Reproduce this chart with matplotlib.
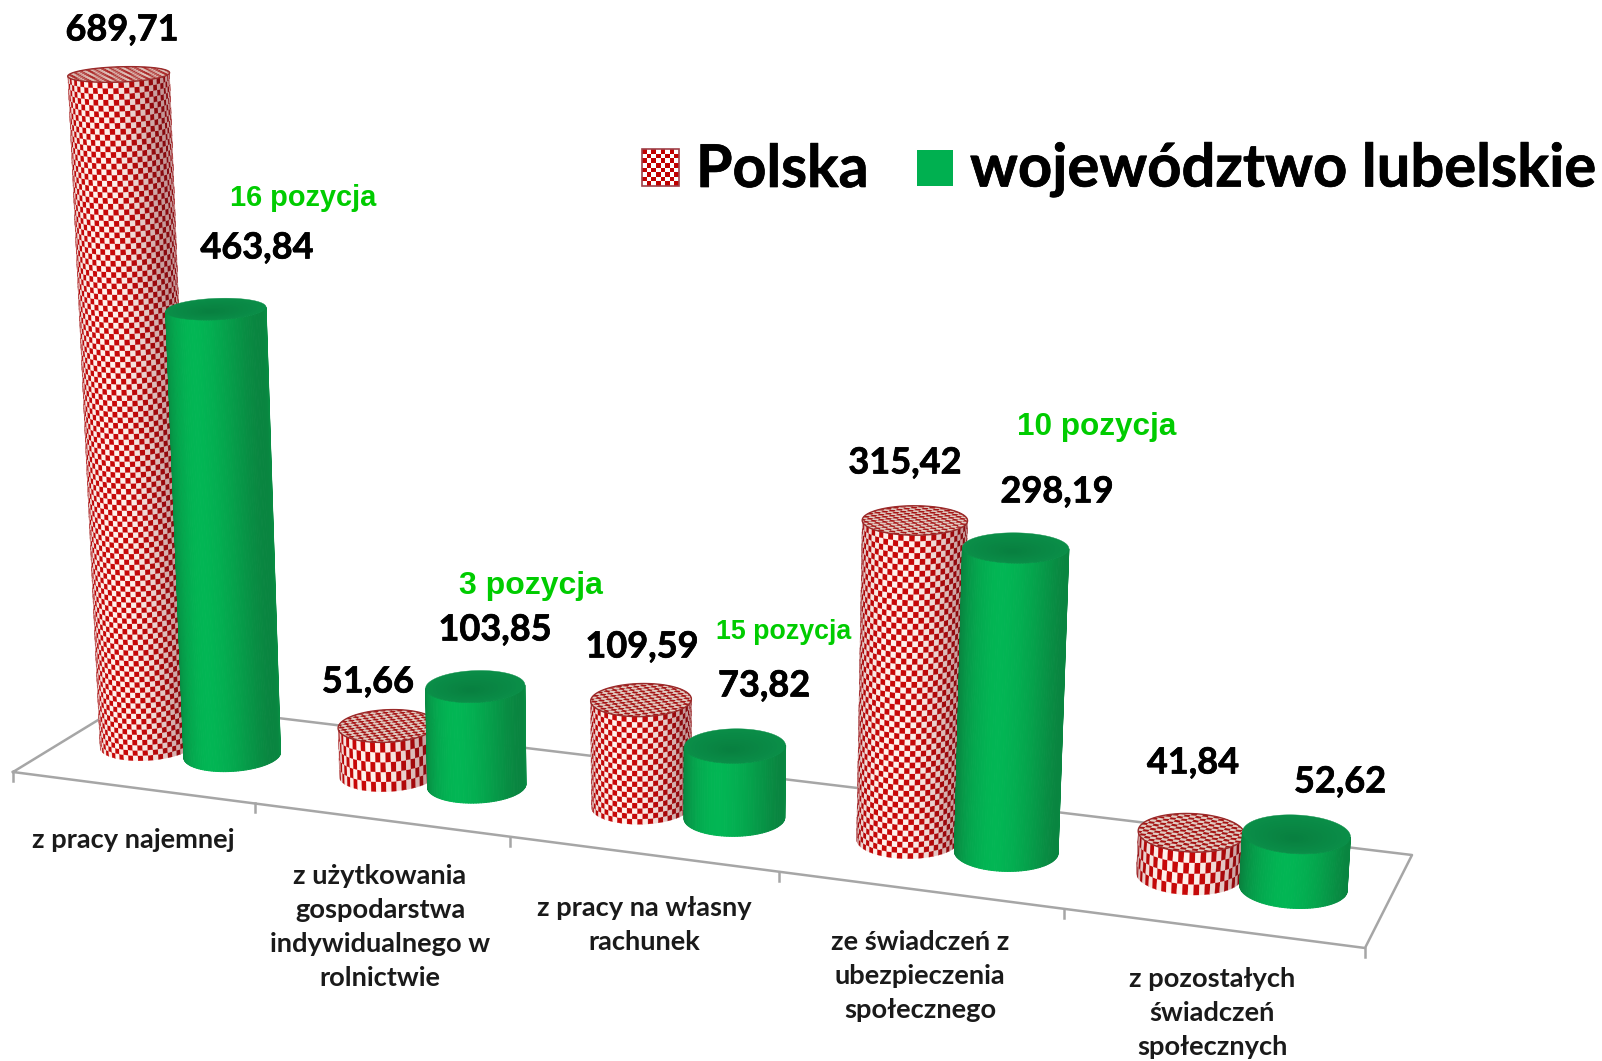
#!/usr/bin/env python3
"""Cylinder chart of income sources, Polska vs wojewodztwo lubelskie"""

import matplotlib
matplotlib.use('Agg')
import matplotlib.pyplot as plt
import matplotlib.patheffects as pe
from matplotlib.collections import PolyCollection
from matplotlib.colors import ListedColormap
from matplotlib.patches import Rectangle
import numpy as np

categories = ['z pracy najemnej',
              'z użytkowania\ngospodarstwa\nindywidualnego w\nrolnictwie',
              'z pracy na własny\nrachunek',
              'ze świadczeń z\nubezpieczenia\nspołecznego',
              'z pozostałych\nświadczeń\nspołecznych']
polska = [689.71, 51.66, 109.59, 315.42, 41.84]
lubelskie = [463.84, 103.85, 73.82, 298.19, 52.62]
series_names = ['Polska', 'województwo lubelskie']
rank_labels = ['16 pozycja', '3 pozycja', '15 pozycja', '10 pozycja']

# text placement in pixels
polska_label_xy = [(122, 30), (368, 682), (642, 647), (905, 463), (1193, 763)]
lubelskie_label_xy = [(257, 248), (495, 630), (764, 686), (1057, 492), (1340, 782)]
rank_xy = [(303, 198), (531, 586), (784, 632), (1097, 427)]
rank_size = [20.9, 23, 19.3, 22.7]
category_xy = [(133, 840), (380, 927), (644, 925), (920, 976), (1212, 1013)]

W, H = 1602, 1061
FONT = 'Lato'
BOLDER = [pe.withStroke(linewidth=0.5, foreground='black')]

# floor corners: (X, Y) world -> pixel, X in categories, Y is depth
floor_world = [(0, 0), (5, 0), (5, 1), (0, 1)]
floor_px = [(13, 772), (1365, 948), (1412, 855), (130.5, 700.2)]
VANISH = np.array([654.0, 12260.0])   # vertical vanishing point
KAPPA = 0.97 / 11500                  # height scale
OFFSET = 0.178                        # column offset from category centre
RX, RY = 0.178, 0.21                  # cylinder radii in world units
DEPTH = 0.5


def floor_matrix():
    A, b = [], []
    for (X, Y), (u, v) in zip(floor_world, floor_px):
        A.append([X, Y, 1, 0, 0, 0, -u * X, -u * Y])
        A.append([0, 0, 0, X, Y, 1, -v * X, -v * Y])
        b += [u, v]
    h = np.linalg.solve(np.array(A, float), np.array(b, float))
    M = np.append(h, 1.0).reshape(3, 3)
    return M / (M[2] @ np.array([2.5, 0.5, 1.0]))


MAT = floor_matrix()


def project(X, Y, z):
    """World point to pixel, z is the chart value"""
    X, Y, z = np.broadcast_arrays(X, Y, z)
    p = MAT @ np.stack([X.ravel(), Y.ravel(), np.ones(X.size)])
    w = p[2] - KAPPA * z.ravel()
    px = (p[0] - KAPPA * z.ravel() * VANISH[0]) / w
    py = (p[1] - KAPPA * z.ravel() * VANISH[1]) / w
    return np.column_stack([px, py]).reshape(X.shape + (2,))


def area(poly):
    x, y = poly[:, 0], poly[:, 1]
    return 0.5 * np.sum(x * np.roll(y, -1) - np.roll(x, -1) * y)


def lerp(a, b, f):
    return tuple((np.array(a) + (np.array(b) - np.array(a)) * f) / 255.0)


def body_quads(cx, value, n_theta, n_rows):
    """Camera facing quads of the cylinder wall"""
    th = np.linspace(0, 2 * np.pi, n_theta + 1)
    zs = np.linspace(0, value, n_rows + 1)
    quads, idx = [], []
    for i in range(n_theta):
        for j in range(n_rows):
            xs = cx + RX * np.cos([th[i], th[i + 1], th[i + 1], th[i]])
            ys = DEPTH + RY * np.sin([th[i], th[i + 1], th[i + 1], th[i]])
            q = project(xs, ys, np.array([zs[j], zs[j], zs[j + 1], zs[j + 1]]))
            if area(q) < 0:
                quads.append(q)
                idx.append((i, j))
    return quads, idx


def side_pos(i_theta, n_theta):
    """0 at the left silhouette, 1 at the right one"""
    th = 2 * np.pi * (i_theta + 0.5) / n_theta
    return (1 + np.cos(th)) / 2


def draw_green(ax, cx, value, order):
    quads, idx = body_quads(cx, value, 120, 1)
    cols = []
    for i, j in idx:
        f = min(abs(2 * side_pos(i, 120) - 1.05), 1) ** 1.8
        cols.append(lerp((2, 182, 84), (10, 128, 62), f))
    ax.add_collection(PolyCollection(quads, facecolors=cols, edgecolors=cols,
                                     linewidths=0.7, zorder=order))
    # top face in bands from rim to middle
    th = np.linspace(0, 2 * np.pi, 120)
    for k in range(12):
        s = 1 - k / 12.0
        ring = project(cx + s * RX * np.cos(th), DEPTH - 0.25 * RY * (1 - s) + s * RY * np.sin(th),
                       np.full(120, value))
        ax.fill(ring[:, 0], ring[:, 1], color=lerp((10, 142, 72), (8, 128, 64), k / 11.0),
                lw=0.3, zorder=order + 0.1)


def draw_checker(ax, cx, value, order):
    # short columns get stretched tiles, tall ones small square tiles
    if value < 100:
        n_rows = max(int(round(value / 10.0)), 4)
    else:
        n_rows = int(round(value / 5.6))
    quads, idx = body_quads(cx, value, 60, n_rows)
    cols = []
    for i, j in idx:
        f = min(abs(2 * side_pos(i, 60) - 1), 1) ** 3
        if (i + j) % 2 == 0:
            cols.append(lerp((200, 8, 8), (135, 10, 15), f))
        else:
            cols.append(lerp((255, 242, 236), (195, 150, 150), f))
    ax.add_collection(PolyCollection(quads, facecolors=cols, edgecolors=cols,
                                     linewidths=0.2, zorder=order))
    # top face: planar checks pushed in to the rim
    n = 18
    grid = np.linspace(-1, 1, n + 1)
    faces, cols = [], []
    for i in range(n):
        for j in range(n):
            u = np.array([grid[i], grid[i + 1], grid[i + 1], grid[i]])
            v = np.array([grid[j], grid[j], grid[j + 1], grid[j + 1]])
            rad = np.maximum(np.hypot(u, v), 1.0)
            if np.hypot(u, v).min() >= 1.0:
                continue
            faces.append(project(cx + RX * u / rad, DEPTH + RY * v / rad, np.full(4, value)))
            cols.append((165 / 255, 20 / 255, 20 / 255) if (i + j) % 2 == 0
                        else (225 / 255, 205 / 255, 195 / 255))
    ax.add_collection(PolyCollection(faces, facecolors=cols, edgecolors=cols,
                                     linewidths=0.2, zorder=order + 0.1))
    th = np.linspace(0, 2 * np.pi, 120)
    rim = project(cx + RX * np.cos(th), DEPTH + RY * np.sin(th), np.full(120, value))
    ax.plot(rim[:, 0], rim[:, 1], color='#9a2a2a', lw=1.0, zorder=order + 0.2)


def draw_floor(ax):
    grey = '#a6a6a6'
    corners = np.array(floor_px + [floor_px[0]], float)
    ax.plot(corners[:, 0], corners[:, 1], color=grey, lw=1.8, zorder=1)
    for i in range(len(categories) + 1):
        p = project(float(i), 0.0, 0.0)
        ax.plot([p[0], p[0]], [p[1], p[1] + 9], color=grey, lw=1.8, zorder=1)


def draw_legend(ax):
    n = 8
    x0, y0, size = 642, 149, 37
    chk = np.indices((n, n)).sum(axis=0) % 2
    edges_x = np.linspace(x0, x0 + size, n + 1)
    edges_y = np.linspace(y0, y0 + size, n + 1)
    ax.pcolormesh(edges_x, edges_y, chk, cmap=ListedColormap(['#c00000', '#ffffff']), zorder=5)
    ax.add_patch(Rectangle((x0, y0), size, size, fill=False, ec='#a04048', lw=1.2, zorder=6))
    ax.add_patch(Rectangle((917, 150), 36, 36, color='#00b050', lw=0, zorder=5))
    ax.text(696, 170, series_names[0], fontsize=42.5, fontweight='bold', family=FONT,
            ha='left', va='center', color='black', path_effects=BOLDER)
    ax.text(970, 170, series_names[1], fontsize=43, fontweight='bold', family=FONT,
            ha='left', va='center', color='black', path_effects=BOLDER)


def main():
    fig = plt.figure(figsize=(W / 100, H / 100), dpi=100)
    ax = fig.add_axes([0, 0, 1, 1])
    ax.set_xlim(0, W)
    ax.set_ylim(H, 0)
    ax.axis('off')

    draw_floor(ax)

    for i in range(len(categories)):
        draw_checker(ax, i + 0.5 - OFFSET, polska[i], 2 + i)
        draw_green(ax, i + 0.5 + OFFSET, lubelskie[i], 2.5 + i)

    for vals, xys in ((polska, polska_label_xy), (lubelskie, lubelskie_label_xy)):
        for v, (x, y) in zip(vals, xys):
            ax.text(x, y, f'{v:.2f}'.replace('.', ','), fontsize=26, fontweight='bold',
                    family=FONT, ha='center', va='center', color='black', zorder=20,
                    path_effects=BOLDER)

    for txt, (x, y), fs in zip(rank_labels, rank_xy, rank_size):
        ax.text(x, y, txt, fontsize=fs, fontweight='bold', family='Liberation Sans',
                ha='center', va='center', color='#00cc00', zorder=20)

    for txt, (x, y) in zip(categories, category_xy):
        ax.text(x, y, txt, fontsize=19.6, fontweight='bold', family=FONT, ha='center',
                va='center', color='#1a1a1a', linespacing=1.5, zorder=20)

    draw_legend(ax)
    ax.set_xlim(0, W)
    ax.set_ylim(H, 0)

    fig.savefig('out.png', dpi=100, facecolor='white')


if __name__ == '__main__':
    main()
